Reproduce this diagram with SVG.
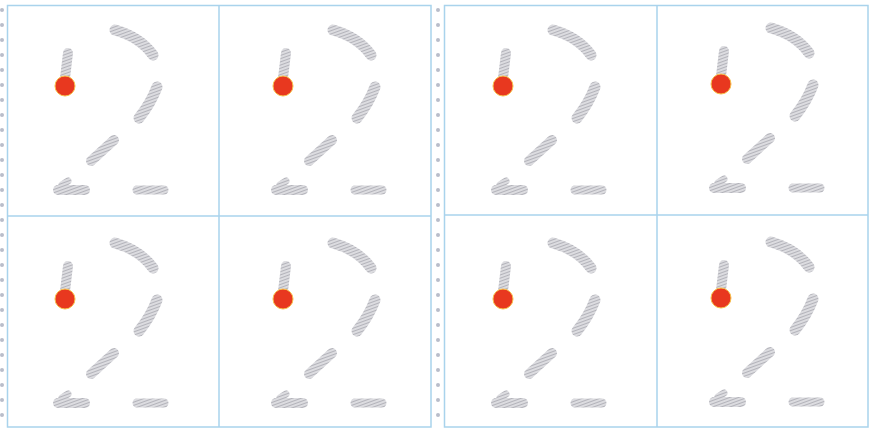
<svg xmlns="http://www.w3.org/2000/svg" xmlns:xlink="http://www.w3.org/1999/xlink" width="876" height="429" viewBox="0 0 876 429">
  <style>
    .frame { fill: none; stroke: #a9d3ec; stroke-width: 1.5; }
    .div { stroke: #a9d3ec; stroke-width: 1.5; }
    .tr { fill: none; stroke: url(#hatch); stroke-linecap: round; stroke-linejoin: round; }
    .hole { fill: #b9bdca; }
    .dot { fill: #e8381f; stroke: #f7c04a; stroke-width: 1; }
  </style>
  <defs>
    <pattern id="hatch" patternUnits="userSpaceOnUse" width="3" height="3" patternTransform="rotate(-20)">
      <rect width="3" height="3" fill="#dcdce0"/>
      <line x1="0" y1="1.5" x2="3" y2="1.5" stroke="#b3b3ba" stroke-width="1"/>
    </pattern>
    <g id="two">
      <path class="tr" d="M68,53 L65,78" stroke-width="10"/>
      <path class="tr" d="M115,30 Q140,37 153,55" stroke-width="11"/>
      <path class="tr" d="M157,87 Q151,103 139,118" stroke-width="11"/>
      <path class="tr" d="M114,140 L91,161" stroke-width="10"/>
      <path class="tr" d="M58,190 L85,190" stroke-width="10"/>
      <path class="tr" d="M62,185 L68,181" stroke-width="7"/>
      <path class="tr" d="M137,190 L164,190" stroke-width="9"/>
      <circle class="dot" cx="65" cy="86" r="10"/>
    </g>
  </defs>
  <rect width="876" height="429" fill="#ffffff"/>
  <g id="sheet-left">
    <rect class="frame" x="7.5" y="5.5" width="423.5" height="421.5"/>
    <line class="div" x1="219" y1="5.5" x2="219" y2="427"/>
    <line class="div" x1="7.5" y1="216" x2="431" y2="216"/>
  </g>
  <g id="sheet-right">
    <rect class="frame" x="444.5" y="5.5" width="423.5" height="421.5"/>
    <line class="div" x1="657" y1="5.5" x2="657" y2="427"/>
    <line class="div" x1="444.5" y1="215" x2="868" y2="215"/>
  </g>
  <g id="holes">
    <g class="hole">
      <circle cx="2" cy="10" r="2"/><circle cx="2" cy="25" r="2"/><circle cx="2" cy="40" r="2"/><circle cx="2" cy="55" r="2"/><circle cx="2" cy="70" r="2"/><circle cx="2" cy="85" r="2"/><circle cx="2" cy="100" r="2"/><circle cx="2" cy="115" r="2"/><circle cx="2" cy="130" r="2"/><circle cx="2" cy="145" r="2"/><circle cx="2" cy="160" r="2"/><circle cx="2" cy="175" r="2"/><circle cx="2" cy="190" r="2"/><circle cx="2" cy="205" r="2"/><circle cx="2" cy="220" r="2"/><circle cx="2" cy="235" r="2"/><circle cx="2" cy="250" r="2"/><circle cx="2" cy="265" r="2"/><circle cx="2" cy="280" r="2"/><circle cx="2" cy="295" r="2"/><circle cx="2" cy="310" r="2"/><circle cx="2" cy="325" r="2"/><circle cx="2" cy="340" r="2"/><circle cx="2" cy="355" r="2"/><circle cx="2" cy="370" r="2"/><circle cx="2" cy="385" r="2"/><circle cx="2" cy="400" r="2"/><circle cx="2" cy="415" r="2"/>
      <circle cx="438" cy="10" r="2"/><circle cx="438" cy="25" r="2"/><circle cx="438" cy="40" r="2"/><circle cx="438" cy="55" r="2"/><circle cx="438" cy="70" r="2"/><circle cx="438" cy="85" r="2"/><circle cx="438" cy="100" r="2"/><circle cx="438" cy="115" r="2"/><circle cx="438" cy="130" r="2"/><circle cx="438" cy="145" r="2"/><circle cx="438" cy="160" r="2"/><circle cx="438" cy="175" r="2"/><circle cx="438" cy="190" r="2"/><circle cx="438" cy="205" r="2"/><circle cx="438" cy="220" r="2"/><circle cx="438" cy="235" r="2"/><circle cx="438" cy="250" r="2"/><circle cx="438" cy="265" r="2"/><circle cx="438" cy="280" r="2"/><circle cx="438" cy="295" r="2"/><circle cx="438" cy="310" r="2"/><circle cx="438" cy="325" r="2"/><circle cx="438" cy="340" r="2"/><circle cx="438" cy="355" r="2"/><circle cx="438" cy="370" r="2"/><circle cx="438" cy="385" r="2"/><circle cx="438" cy="400" r="2"/><circle cx="438" cy="415" r="2"/>
    </g>
  </g>
  <g id="cells">
    <use xlink:href="#two" href="#two" x="0" y="0"/>
    <use xlink:href="#two" href="#two" x="218" y="0"/>
    <use xlink:href="#two" href="#two" x="438" y="0"/>
    <use xlink:href="#two" href="#two" x="656" y="-2"/>
    <use xlink:href="#two" href="#two" x="0" y="213"/>
    <use xlink:href="#two" href="#two" x="218" y="213"/>
    <use xlink:href="#two" href="#two" x="438" y="213"/>
    <use xlink:href="#two" href="#two" x="656" y="212"/>
  </g>
</svg>
